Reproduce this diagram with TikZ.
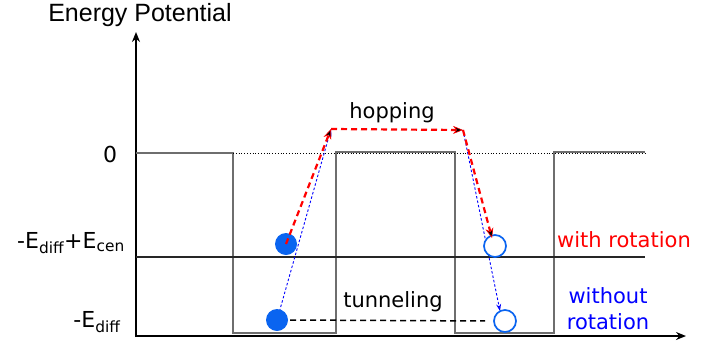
\documentclass[tikz,border=0pt]{standalone}
\usepackage{fontspec}
\setmainfont{DejaVu Sans}
\newfontfamily\titlefont{Liberation Sans}
\usetikzlibrary{arrows.meta}
\definecolor{ballblue}{RGB}{10,100,240}
\definecolor{wallgray}{RGB}{110,110,110}

\begin{document}
\begin{tikzpicture}[x=1pt, y=-1pt,
        ball/.style={circle, minimum size=22pt, inner sep=0pt, fill=ballblue},
        emptyball/.style={circle, minimum size=22pt, inner sep=0pt, draw=ballblue, line width=1.7pt, fill=white},
        hop/.style={red, line width=2.2pt, dash pattern=on 6pt off 4pt, -{Stealth[length=10pt, width=8pt, fill=black, line width=0.6pt]}},
        tunnel/.style={blue, line width=0.9pt, dash pattern=on 2.5pt off 2pt, -{Stealth[length=7pt, width=5pt, open]}},
        txt/.style={font=\fontsize{21}{25}\selectfont, inner sep=0pt}]
        \useasboundingbox (0,0) rectangle (717,346);

        % axes
        \draw[line width=1.6pt, -{Stealth[length=10pt, width=8pt]}] (136,337) -- (136,32);
        \draw[line width=1.6pt, -{Stealth[length=10pt, width=8pt]}] (135,336) -- (686,336);
        \node[font=\titlefont\fontsize{25}{29}\selectfont, inner sep=0pt] (title) at (140,15) {Energy Potential};

        % potential walls
        \draw[wallgray, line width=2.4pt] (136,153) -- (233,153) -- (233,333) -- (336,333) -- (336,152)
            -- (455,152) -- (455,333) -- (554,333) -- (554,152) -- (645,152);
        \draw[dotted, line width=0.8pt] (233,153) -- (645,153);
        \draw[line width=1.6pt, black!85] (136,257) -- (645,257);

        % levels
        \node[txt, font=\fontsize{22}{26}\selectfont] (zero) at (110,154) {0};
        \node[txt, font=\fontsize{22}{26}\selectfont] (ecen) at (71,243) {-E\textsubscript{diff}+E\textsubscript{cen}};
        \node[txt, font=\fontsize{22}{26}\selectfont] (ediff) at (97,322) {-E\textsubscript{diff}};

        % particles
        \coordinate (peakL) at (331,129);
        \coordinate (peakR) at (463,130);
        \coordinate (landing) at (492,238);
        \coordinate (dropend) at (500,311);

        \draw[tunnel] (277,320) -- (peakL);
        \draw[tunnel] (peakR) -- (dropend);

        \node[ball] (upball) at (286,244) {};
        \node[ball] (lowball) at (277,320) {};
        \node[emptyball] (upempty) at (495,246) {};
        \node[emptyball] (lowempty) at (505,321) {};

        \draw[hop] (upball.center) -- (peakL);
        \draw[hop] (peakL) -- (peakR);
        \draw[hop] (peakR) -- (landing);
        \draw[line width=1.5pt, dash pattern=on 6pt off 4pt, shorten <=2pt, shorten >=8pt] (lowball.east) -- (lowempty.west);

        \node[txt] (hoplabel) at (392,113) {hopping};
        \node[txt] (tunlabel) at (393,302) {tunneling};
        \node[txt, red] (withrot) at (624,240) {with rotation};
        \node[txt, blue, align=center, font=\fontsize{21}{26}\selectfont] (withoutrot) at (608,309) {without\\rotation};
\end{tikzpicture}
\end{document}
